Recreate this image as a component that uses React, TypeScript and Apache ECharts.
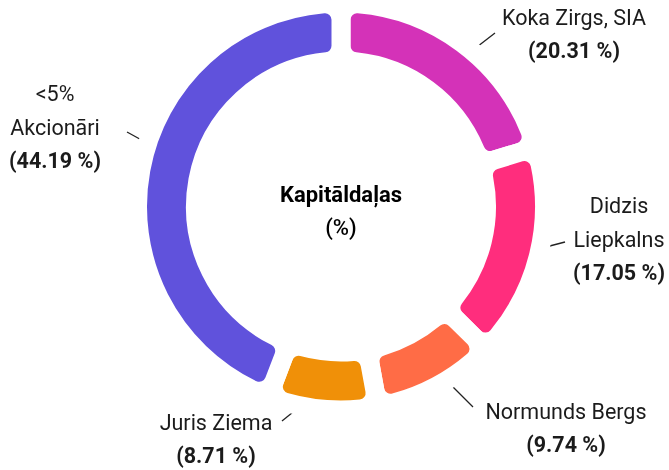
import React, { useEffect, useRef } from "react";
import * as echarts from "echarts";

const names = ["Koka Zirgs, SIA", "Didzis\nLiepkalns", "Normunds Bergs", "Juris Ziema", "<5%\nAkcionāri"];
const values = [20.31, 17.05, 9.74, 8.71, 44.19];
const colors = ["#d432b8", "#ff2d7d", "#ff6c46", "#f09008", "#6052dc"];
const centerTitle = "Kapitāldaļas";
const centerSub = "(%)";

// label placement (layout only): label block centre and leader-line ends
const labelSpots = [
  { x: 574, y: 34, line: [[473, 50], [495, 33]] },
  { x: 619, y: 239, line: [[542, 248], [565, 242]] },
  { x: 566, y: 428, line: [[450, 384], [473, 407]] },
  { x: 216, y: 439, line: [[303, 404], [282, 421]] },
  { x: 55, y: 127, line: [[147, 143], [127, 132]] },
];

const FONT = "Roboto";
const TEXT = "#1b1b1b";

export default function App() {
  const ref = useRef<HTMLDivElement>(null);
  useEffect(() => {
    if (!ref.current) return;
    const chart = echarts.init(ref.current, null, { renderer: "svg" });
    const data = names.map((n, i) => ({ name: n, value: values[i], itemStyle: { color: colors[i] } }));
    chart.setOption({
      animation: false,
      textStyle: { fontFamily: FONT },
      graphic: [
        {
          type: "text",
          x: 341,
          y: 211,
          style: {
            text: `{b|${centerTitle}}\n{n|${centerSub}}`,
            align: "center",
            verticalAlign: "middle",
            rich: {
              b: { fontFamily: FONT, fontSize: 22, fontWeight: "bold", color: TEXT, lineHeight: 33, align: "center" },
              n: { fontFamily: FONT, fontSize: 22, fontWeight: 500, color: TEXT, lineHeight: 33, align: "center" },
            },
          },
        },
      ],
      series: [
        {
          type: "pie",
          center: [341, 206.5],
          radius: [145.5, 203.5],
          startAngle: 90,
          clockwise: true,
          avoidLabelOverlap: false,
          itemStyle: { borderColor: "#ffffff", borderWidth: 19, borderRadius: 16 },
          label: {
            show: true,
            position: "outside",
            formatter: (p: any) => {
              const lines = String(p.name).split("\n").map((l: string) => `{n|${l}}`);
              const v = values[p.dataIndex].toFixed(2);
              return lines.join("\n") + `\n{p|(${v} %)}`;
            },
            rich: {
              n: { fontFamily: FONT, fontSize: 21.5, color: TEXT, lineHeight: 33.5, align: "center" },
              p: { fontFamily: FONT, fontSize: 21.5, fontWeight: "bold", color: TEXT, lineHeight: 33.5, align: "center" },
            },
          },
          labelLine: { show: true, length: 24, length2: 0, lineStyle: { color: "#222", width: 1.3 } },
          labelLayout: (params: any) => {
            const s = labelSpots[params.dataIndex];
            return {
              x: s.x,
              y: s.y,
              align: "center",
              verticalAlign: "middle",
              labelLinePoints: [s.line[0], s.line[1], s.line[1]],
            };
          },
          emphasis: { disabled: true },
          data,
        },
      ],
    });
    return () => chart.dispose();
  }, []);
  return <div ref={ref} style={{ position: "fixed", left: 0, top: 0, width: 669, height: 470 }} />;
}
